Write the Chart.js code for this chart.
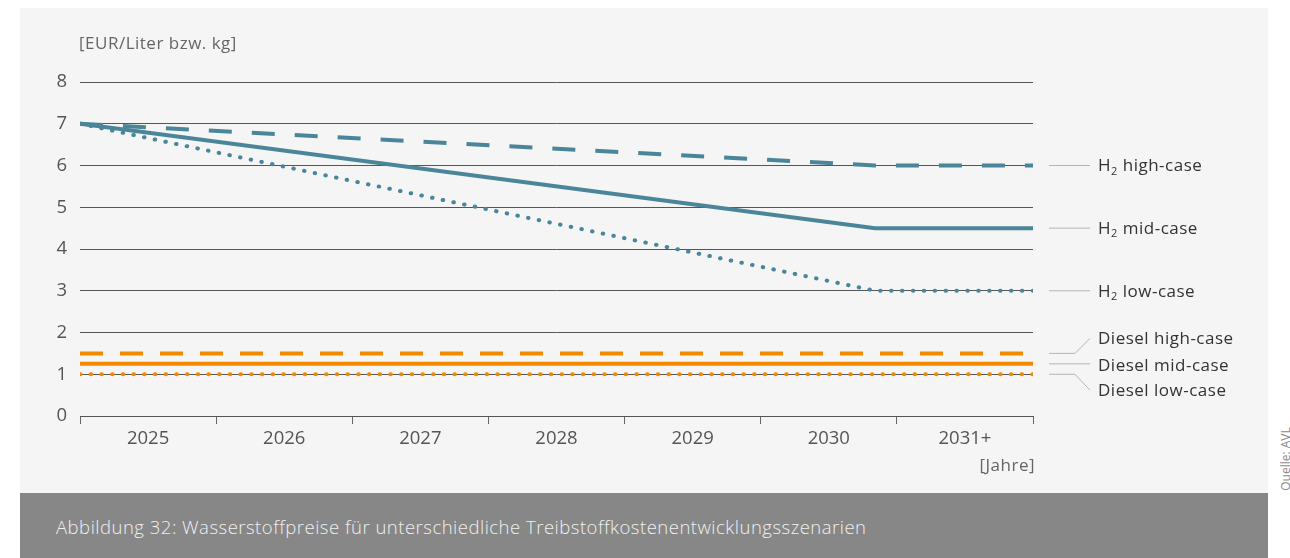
<!DOCTYPE html>
<html>
<head>
<meta charset="utf-8">
<script src="https://cdn.jsdelivr.net/npm/chart.js@4"></script>
<style>
  html, body { margin: 0; padding: 0; background: #ffffff; }
  body { width: 1290px; height: 558px; position: relative; overflow: hidden; font-family: "Open Sans", "Liberation Sans", sans-serif; }
  #panel { position: absolute; left: 20px; top: 8px; width: 1248px; height: 485px; background: #f5f5f5; }
  #caption { position: absolute; left: 20px; top: 493px; width: 1248px; height: 65px; background: #878787; }
  #caption span { position: absolute; left: 36px; top: 21px; color: #f0f0f0; font-size: 18.5px; font-weight: 300; letter-spacing: 0.5px; white-space: nowrap; }
  #source { position: absolute; left: 1285px; top: 459px; transform: translate(-50%, -50%) rotate(-90deg); color: #8a8a8a; font-size: 12px; white-space: nowrap; }
  #wrap { position: absolute; left: 0; top: 0; width: 1290px; height: 558px; }
</style>
</head>
<body>
<div id="panel"></div>
<div id="caption"><span>Abbildung 32: Wasserstoffpreise für unterschiedliche Treibstoffkostenentwicklungsszenarien</span></div>
<div id="source">Quelle: AVL</div>
<div id="wrap"><canvas id="priceChart"></canvas></div>
<script>
// years along the bottom axis
var years = ['2025', '2026', '2027', '2028', '2029', '2030', '2031+'];
// x positions of the line breakpoints (in year slots, 0 = start of 2025)
var xPoints = [0, 5.84, 7];

// hydrogen price scenarios (EUR/kg)
var h2High = [7, 6, 6];
var h2Mid = [7, 4.5, 4.5];
var h2Low = [7, 3, 3];

// diesel price scenarios (EUR/Liter)
var dieselHigh = [1.5, 1.5, 1.5];
var dieselMid = [1.25, 1.25, 1.25];
var dieselLow = [1, 1, 1];

var yTicks = [0, 1, 2, 3, 4, 5, 6, 7, 8];

var blue = '#4a8599';
var orange = '#f28a00';
var font = '"Open Sans"';

function points(values) {
    return values.map((v, i) => ({ x: xPoints[i], y: v }));
}

// right-hand labels: text, value, vertical shift of the label
var endLabels = [
    { sub: true, text: 'high-case', value: h2High[2], dy: 0 },
    { sub: true, text: 'mid-case', value: h2Mid[2], dy: 0 },
    { sub: true, text: 'low-case', value: h2Low[2], dy: 0 },
    { sub: false, text: 'Diesel high-case', value: dieselHigh[2], dy: -15 },
    { sub: false, text: 'Diesel mid-case', value: dieselMid[2], dy: 1 },
    { sub: false, text: 'Diesel low-case', value: dieselLow[2], dy: 16 }
];

const labelPlugin = {
    id: 'endLabels',
    afterDraw(chart) {
        const ctx = chart.ctx;
        const y = chart.scales.y;
        const right = chart.chartArea.right;
        ctx.save();
        ctx.letterSpacing = '0.5px';
        endLabels.forEach(l => {
            const py = y.getPixelForValue(l.value);
            const ty = py + l.dy;
            // leader line
            ctx.strokeStyle = '#b4b4b4';
            ctx.lineWidth = 1;
            ctx.beginPath();
            if (Math.abs(l.dy) < 3) {
                ctx.moveTo(right + 16, py);
                ctx.lineTo(right + 57, py);
            } else {
                ctx.moveTo(right + 16, py);
                ctx.lineTo(right + 42, py);
                ctx.lineTo(right + 57, ty);
            }
            ctx.stroke();
            // text
            ctx.fillStyle = '#333333';
            ctx.textBaseline = 'middle';
            ctx.textAlign = 'left';
            let x = right + 65;
            const tyText = ty + 1;
            if (l.sub) {
                ctx.font = '17px ' + font;
                ctx.fillText('H', x, tyText);
                x += ctx.measureText('H').width;
                ctx.font = '11px ' + font;
                ctx.fillText('2', x, tyText + 5);
                x += ctx.measureText('2').width;
                ctx.font = '17px ' + font;
                ctx.fillText(' ' + l.text, x, tyText);
            } else {
                ctx.font = '17px ' + font;
                ctx.fillText(l.text, x, tyText);
            }
        });
        // axis titles
        ctx.fillStyle = '#666666';
        ctx.font = '17px ' + font;
        ctx.textAlign = 'left';
        ctx.textBaseline = 'middle';
        ctx.fillText('[EUR/Liter bzw. kg]', chart.chartArea.left - 1, 44);
        ctx.textAlign = 'right';
        ctx.fillText('[Jahre]', right + 2, 466);
        ctx.restore();
    }
};

function lineSet(label, values, color, dash, cap) {
    return {
        label: label,
        data: points(values),
        xAxisID: 'xl',
        borderColor: color,
        borderWidth: 4,
        borderDash: dash,
        borderCapStyle: cap,
        pointRadius: 0,
        tension: 0,
        fill: false
    };
}

const ctx = document.getElementById('priceChart').getContext('2d');
new Chart(ctx, {
    type: 'line',
    data: {
        labels: years,
        datasets: [
            lineSet('Diesel low-case', dieselLow, orange, [0.5, 10.2], 'round'),
            lineSet('Diesel mid-case', dieselMid, orange, [], 'butt'),
            lineSet('Diesel high-case', dieselHigh, orange, [23, 17], 'butt'),
            lineSet('H2 low-case', h2Low, blue, [0.5, 10.4], 'round'),
            lineSet('H2 mid-case', h2Mid, blue, [], 'butt'),
            lineSet('H2 high-case', h2High, blue, [23, 20], 'butt')
        ]
    },
    options: {
        responsive: true,
        maintainAspectRatio: false,
        animation: false,
        layout: { padding: { left: 0, top: 82, right: 257, bottom: 102 } },
        plugins: { legend: { display: false }, tooltip: { enabled: false } },
        scales: {
            x: {
                type: 'category',
                offset: true,
                afterFit: s => { s.height = 40; },
                grid: { offset: true, drawOnChartArea: false, color: '#666666', tickLength: 8, tickWidth: 1 },
                border: { display: true, color: '#555555', width: 1 },
                ticks: { color: '#555555', font: { family: 'Open Sans', size: 18.5 }, padding: 4, maxRotation: 0 }
            },
            xl: {
                type: 'linear',
                display: false,
                min: 0,
                max: years.length
            },
            y: {
                min: 0,
                max: 8,
                afterFit: s => { s.width = 80; },
                afterBuildTicks: s => { s.ticks = yTicks.map(v => ({ value: v })); },
                grid: { color: '#555555', lineWidth: 1, drawTicks: false },
                border: { display: false },
                ticks: { color: '#555555', font: { family: 'Open Sans', size: 18.5 }, padding: 13 }
            }
        }
    },
    plugins: [labelPlugin]
});
</script>
</body>
</html>
